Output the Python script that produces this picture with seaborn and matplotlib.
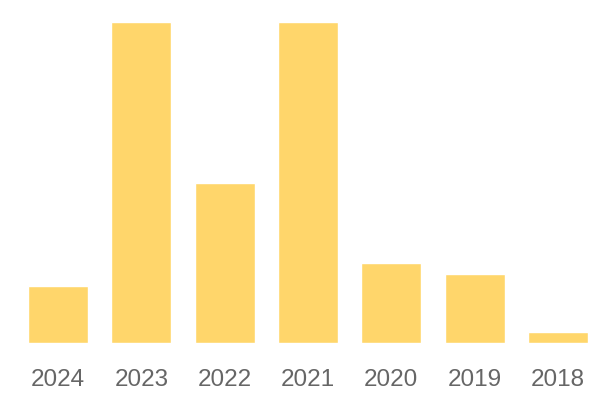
import matplotlib
matplotlib.use("Agg")
import matplotlib.pyplot as plt
import seaborn as sns
import pandas as pd

# values
years = ["2024", "2023", "2022", "2021", "2020", "2019", "2018"]
counts = [5, 28, 14, 28, 7, 6, 1]

df = pd.DataFrame({"year": years, "count": counts})

sns.set_style("white")
plt.rcParams["font.family"] = ["Liberation Sans", "DejaVu Sans"]

fig = plt.figure(figsize=(6, 4), dpi=100)
ax = fig.add_axes([28 / 600, 1 - 343 / 400, 560 / 600, 321 / 400])
sns.barplot(data=df, x="year", y="count", color="#FFD66B", saturation=1,
            width=0.72, ax=ax)

ax.set_xlim(-0.36, 6.36)
ax.set_ylim(0, 28)
ax.set_xlabel("")
ax.set_ylabel("")
ax.set_yticks([])
ax.tick_params(axis="x", length=0, pad=19, labelsize=17.5, labelcolor="#666666")
sns.despine(ax=ax, left=True, bottom=True)

fig.savefig("out.png", dpi=100)
